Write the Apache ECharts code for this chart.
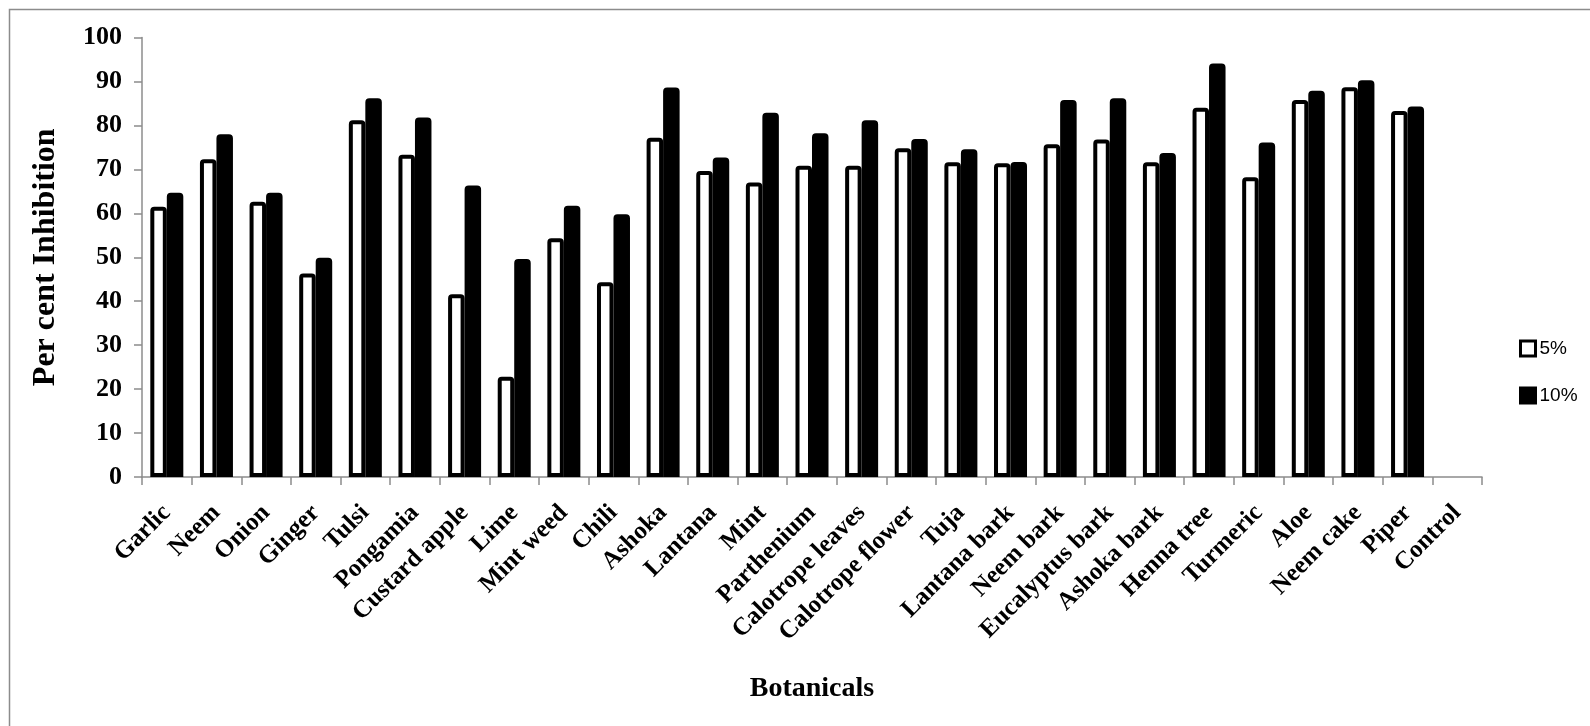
<!DOCTYPE html>
<html>
<head>
<meta charset="utf-8">
<script src="https://cdn.jsdelivr.net/npm/echarts@6/dist/echarts.min.js"></script>
<style>html,body{margin:0;padding:0;background:#fff;}#c{width:1590px;height:726px;}</style>
</head>
<body>
<div id="c"></div>
<script>
const categories = ["Garlic","Neem","Onion","Ginger","Tulsi","Pongamia","Custard apple","Lime","Mint weed","Chili","Ashoka","Lantana","Mint","Parthenium","Calotrope leaves","Calotrope flower","Tuja","Lantana bark","Neem bark","Eucalyptus bark","Ashoka bark","Henna tree","Turmeric","Aloe","Neem cake","Piper","Control"];
const fivePct = [61.5,72.3,62.6,46.3,81.2,73.3,41.6,22.8,54.3,44.3,77.2,69.6,67.0,70.8,70.8,74.8,71.6,71.4,75.7,76.8,71.6,84.0,68.2,85.8,88.7,83.3,null];
const tenPct = [64.7,78.0,64.7,49.9,86.2,81.8,66.3,49.6,61.7,59.8,88.6,72.7,82.9,78.2,81.2,76.9,74.6,71.7,85.8,86.2,73.7,94.1,76.1,87.9,90.3,84.3,null];
const seriesNames = ["5%","10%"];

const chart = echarts.init(document.getElementById('c'));
const serif = '"Liberation Serif","Times New Roman",serif';
chart.setOption({
  animation: false,
  backgroundColor: '#fff',
  graphic: [{
    type: 'rect', silent: true,
    shape: { x: 9.5, y: 9.5, width: 2000, height: 2000 },
    style: { fill: 'none', stroke: '#8c8c8c', lineWidth: 1.5 }
  }],
  grid: { left: 142, right: 108, top: 37.5, bottom: 249, containLabel: false },
  legend: {
    orient: 'vertical', left: 1519, top: 339, padding: 0,
    itemWidth: 15, itemHeight: 15, itemGap: 28,
    icon: 'rect',
    itemStyle: { borderWidth: 3 },
    textStyle: { fontFamily: '"Liberation Sans",Arial,sans-serif', fontSize: 19, color: '#000', padding: [0,0,0,-1] },
    data: seriesNames
  },
  xAxis: {
    type: 'category', data: categories,
    name: 'Botanicals', nameLocation: 'middle', nameGap: 198,
    nameTextStyle: { fontFamily: serif, fontWeight: 'bold', fontSize: 28, color: '#000' },
    axisLine: { lineStyle: { color: '#8c8c8c', width: 1.5 } },
    axisTick: { show: true, alignWithLabel: false, length: 8, lineStyle: { color: '#8c8c8c', width: 1.5 } },
    axisLabel: { rotate: 45, interval: 0, margin: 32, fontFamily: serif, fontWeight: 'bold', fontSize: 25, color: '#000' }
  },
  yAxis: {
    type: 'value', min: 0, max: 100, interval: 10,
    name: 'Per cent Inhibition', nameLocation: 'middle', nameGap: 80,
    nameTextStyle: { fontFamily: serif, fontWeight: 'bold', fontSize: 32, color: '#000' },
    axisLine: { show: true, lineStyle: { color: '#8c8c8c', width: 1.5 } },
    axisTick: { show: true, length: 8, lineStyle: { color: '#8c8c8c', width: 1.5 } },
    splitLine: { show: false },
    axisLabel: { margin: 20, fontFamily: serif, fontWeight: 'bold', fontSize: 26, color: '#000' }
  },
  series: [
    {
      name: seriesNames[0], type: 'bar', data: fivePct,
      barWidth: 16.5, barGap: '0%',
      itemStyle: { color: '#fff', borderColor: '#000', borderWidth: 4, borderRadius: [2,2,0,0] }
    },
    {
      name: seriesNames[1], type: 'bar', data: tenPct,
      barWidth: 16.5, barGap: '0%',
      itemStyle: { color: '#000', borderColor: '#000', borderWidth: 4, borderRadius: [2,2,0,0] }
    }
  ]
});
</script>
</body>
</html>
